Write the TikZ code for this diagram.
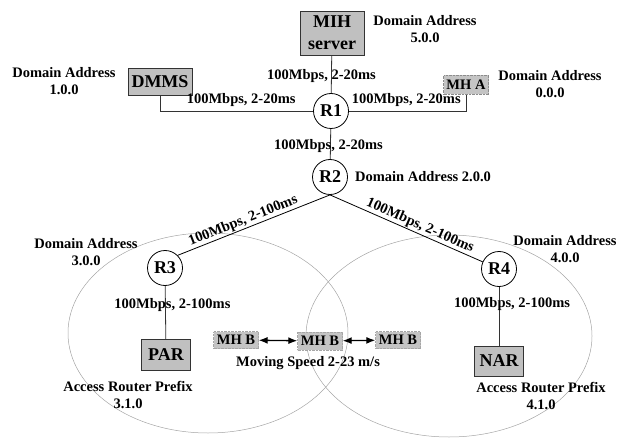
\documentclass[tikz,border=0pt]{standalone}
\usepackage{fontspec}
\setmainfont{Liberation Serif}
\usetikzlibrary{arrows.meta,positioning}
\definecolor{boxgray}{RGB}{192,192,192}
\definecolor{hostgray}{RGB}{196,196,196}
\definecolor{cellline}{RGB}{165,165,165}

\begin{document}
\begin{tikzpicture}[x=1pt, y=-1pt, >=Latex,
    router/.style={draw, circle, fill=white, line width=0.8pt, minimum size=35pt, inner sep=0pt, font=\fontsize{18}{20}\selectfont\bfseries},
    entity/.style={draw=black!80, fill=boxgray, line width=0.8pt, inner sep=2pt, align=center, font=\fontsize{18}{22}\selectfont\bfseries},
    host/.style={draw=black!35, densely dotted, fill=hostgray, minimum width=45pt, minimum height=17pt, inner sep=1pt, font=\fontsize{14.5}{16}\selectfont\bfseries},
    note/.style={align=center, inner sep=0pt, font=\fontsize{14.5}{17.5}\selectfont\bfseries},
    link/.style={draw=black!80, line width=0.8pt},
    cell/.style={draw=cellline, line width=0.5pt}]
  \useasboundingbox (0,0) rectangle (628,438);

  % the two access cells
  \draw[cell] (208,333) ellipse [x radius=140pt, y radius=100pt];
  \draw[cell] (449,336) ellipse [x radius=143pt, y radius=101pt];

  % core
  \node[entity, minimum width=64pt, minimum height=44pt] (mih) at (332,33) {MIH\\server};
  \node[entity, minimum width=64pt, minimum height=27pt] (dmms) at (160,82) {DMMS};
  \node[host, draw=black!45, minimum height=19pt] (mha) at (466,85) {MH A};
  \node[router] (r1) at (331,111) {R1};
  \node[router] (r2) at (330,177) {R2};
  \node[router] (r3) at (165,268) {R3};
  \node[router] (r4) at (499,269) {R4};
  \node[entity, minimum width=49pt, minimum height=31pt] (par) at (166,355) {PAR};
  \node[entity, minimum width=49pt, minimum height=30pt] (nar) at (499,361) {NAR};

  % moving host
  \node[host] (mhb1) at (236,340) {MH B};
  \node[host, minimum height=18pt] (mhb2) at (320,341) {MH B};
  \node[host] (mhb3) at (398,340) {MH B};

  % addresses
  \node[note] (mihaddr) at (425,29) {Domain Address\\5.0.0};
  \node[note] (dmmsaddr) at (64,81) {Domain Address\\1.0.0};
  \node[note] (mhaaddr) at (550,84) {Domain Address\\0.0.0};
  \node[note, right=7pt of r2] (r2addr) {Domain Address 2.0.0};
  \node[note] (r3addr) at (86,252) {Domain Address\\3.0.0};
  \node[note] (r4addr) at (565,249) {Domain Address\\4.0.0};
  \node[note] (parpfx) at (128,395) {Access Router Prefix\\3.1.0};
  \node[note] (narpfx) at (541,396) {Access Router Prefix\\4.1.0};
  \node[note] (speed) at (308,363) {Moving Speed 2-23 m/s};

  % links
  \draw[link] (mih) -- (r1) node[note, pos=0.55, xshift=-10pt] {100Mbps, 2-20ms};
  \draw[link] (dmms) |- (r1) node[note, pos=0.765, yshift=11pt] {100Mbps, 2-20ms};
  \draw[link] (r1) -| (mha) node[note, pos=0.245, yshift=11pt] {100Mbps, 2-20ms};
  \draw[link] (r1) -- (r2) node[note, midway, xshift=-2pt, yshift=-2pt] {100Mbps, 2-20ms};
  \draw[link, draw=black] (r2.south) -- (r3.north east) node[note, pos=0.55, sloped, above=1pt] {100Mbps, 2-100ms};
  \draw[link, draw=black] (r2.south) -- (r4) node[note, pos=0.57, sloped, above=1pt] {100Mbps, 2-100ms};
  \draw[link] (r3) -- (par) node[note, pos=0.35, xshift=7pt] {100Mbps, 2-100ms};
  \draw[link] (r4) -- (nar) node[note, pos=0.3, xshift=13pt] {100Mbps, 2-100ms};

  % movement
  \draw[<->, line width=1.3pt, >={Latex[length=9pt, width=7pt]}] (mhb1) -- (mhb2);
  \draw[<->, line width=1.3pt, >={Latex[length=9pt, width=7pt]}] (mhb2) -- (mhb3);
\end{tikzpicture}
\end{document}
